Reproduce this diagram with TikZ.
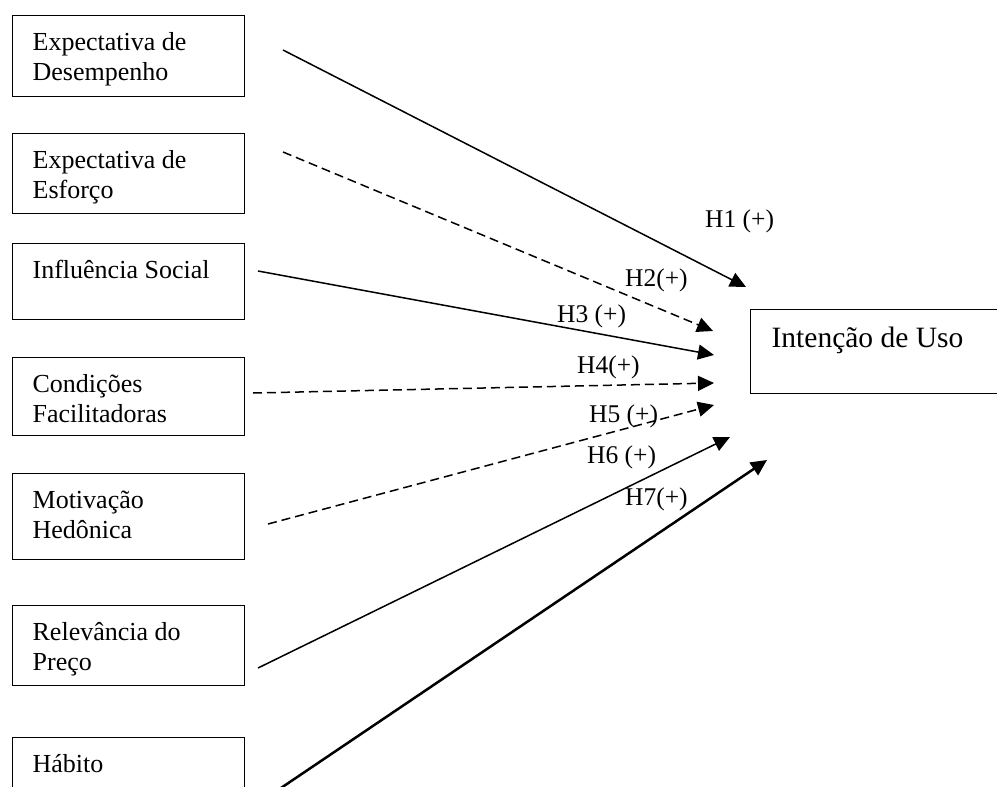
\documentclass[tikz,border=0pt]{standalone}
\usepackage{fontspec}
\setmainfont{Liberation Serif}
\usetikzlibrary{arrows.meta}
\newcommand{\boxtext}[2]{\parbox[c][#1][t]{192pt}{\strut #2}}

\begin{document}
\begin{tikzpicture}[x=1pt,y=-1pt,>={Triangle[length=16pt,width=15pt]},
  factor/.style={draw,line width=1.3pt,anchor=north west,inner xsep=20pt,inner ysep=14pt,font=\fontsize{26}{30}\selectfont},
  hyp/.style={anchor=base west,inner sep=0pt,font=\fontsize{25.5}{30}\selectfont},
  link/.style={line width=1.5pt,->},
  dlink/.style={line width=1.5pt,->,dash pattern=on 9pt off 5pt}]
  \clip (0,0) rectangle (997,787);
  \node[factor] (ed) at (12,15) {\boxtext{53pt}{Expectativa de\\Desempenho}};
  \node[factor] (ee) at (12,133) {\boxtext{52pt}{Expectativa de\\Esforço}};
  \node[factor] (is) at (12,243) {\boxtext{48pt}{Influência Social}};
  \node[factor] (cf) at (12,357) {\boxtext{50pt}{Condições\\Facilitadoras}};
  \node[factor] (mh) at (12,473) {\boxtext{58pt}{Motivação\\Hedônica}};
  \node[factor] (rp) at (12,605) {\boxtext{52pt}{Relevância do\\Preço}};
  \node[factor] (ha) at (12,737) {\boxtext{52pt}{Hábito}};
  \node[factor,inner xsep=21pt,font=\fontsize{29.5}{34}\selectfont] (iu) at (750,309)
    {\parbox[c][56pt][t]{250pt}{\strut Intenção de Uso}};
  \coordinate (ed-out) at (283,50);   \coordinate (h1-in) at (746,287);
  \coordinate (ee-out) at (283,152);  \coordinate (h2-in) at (713,331);
  \coordinate (is-out) at (258,271);  \coordinate (h3-in) at (714,355);
  \coordinate (cf-out) at (253,393);  \coordinate (h4-in) at (714,383);
  \coordinate (mh-out) at (268,524);  \coordinate (h5-in) at (714,405);
  \coordinate (rp-out) at (258,668);  \coordinate (h6-in) at (730,437);
  \coordinate (ha-out) at (278,790);  \coordinate (h7-in) at (767,460);
  \draw[link] (ed-out) -- (h1-in);
  \draw[dlink] (ee-out) -- (h2-in);
  \draw[link] (is-out) -- (h3-in);
  \draw[dlink] (cf-out) -- (h4-in);
  \draw[dlink] (mh-out) -- (h5-in);
  \draw[link] (rp-out) -- (h6-in);
  \draw[link,line width=2.5pt] (ha-out) -- (h7-in);
  \node[hyp] (h1) at (705,227) {H1 (+)};
  \node[hyp] (h2) at (625,286) {H2(+)};
  \node[hyp] (h3) at (557,322) {H3 (+)};
  \node[hyp] (h4) at (577,373) {H4(+)};
  \node[hyp] (h5) at (589,422) {H5 (+)};
  \node[hyp] (h6) at (587,463) {H6 (+)};
  \node[hyp] (h7) at (625,505) {H7(+)};
\end{tikzpicture}
\end{document}
